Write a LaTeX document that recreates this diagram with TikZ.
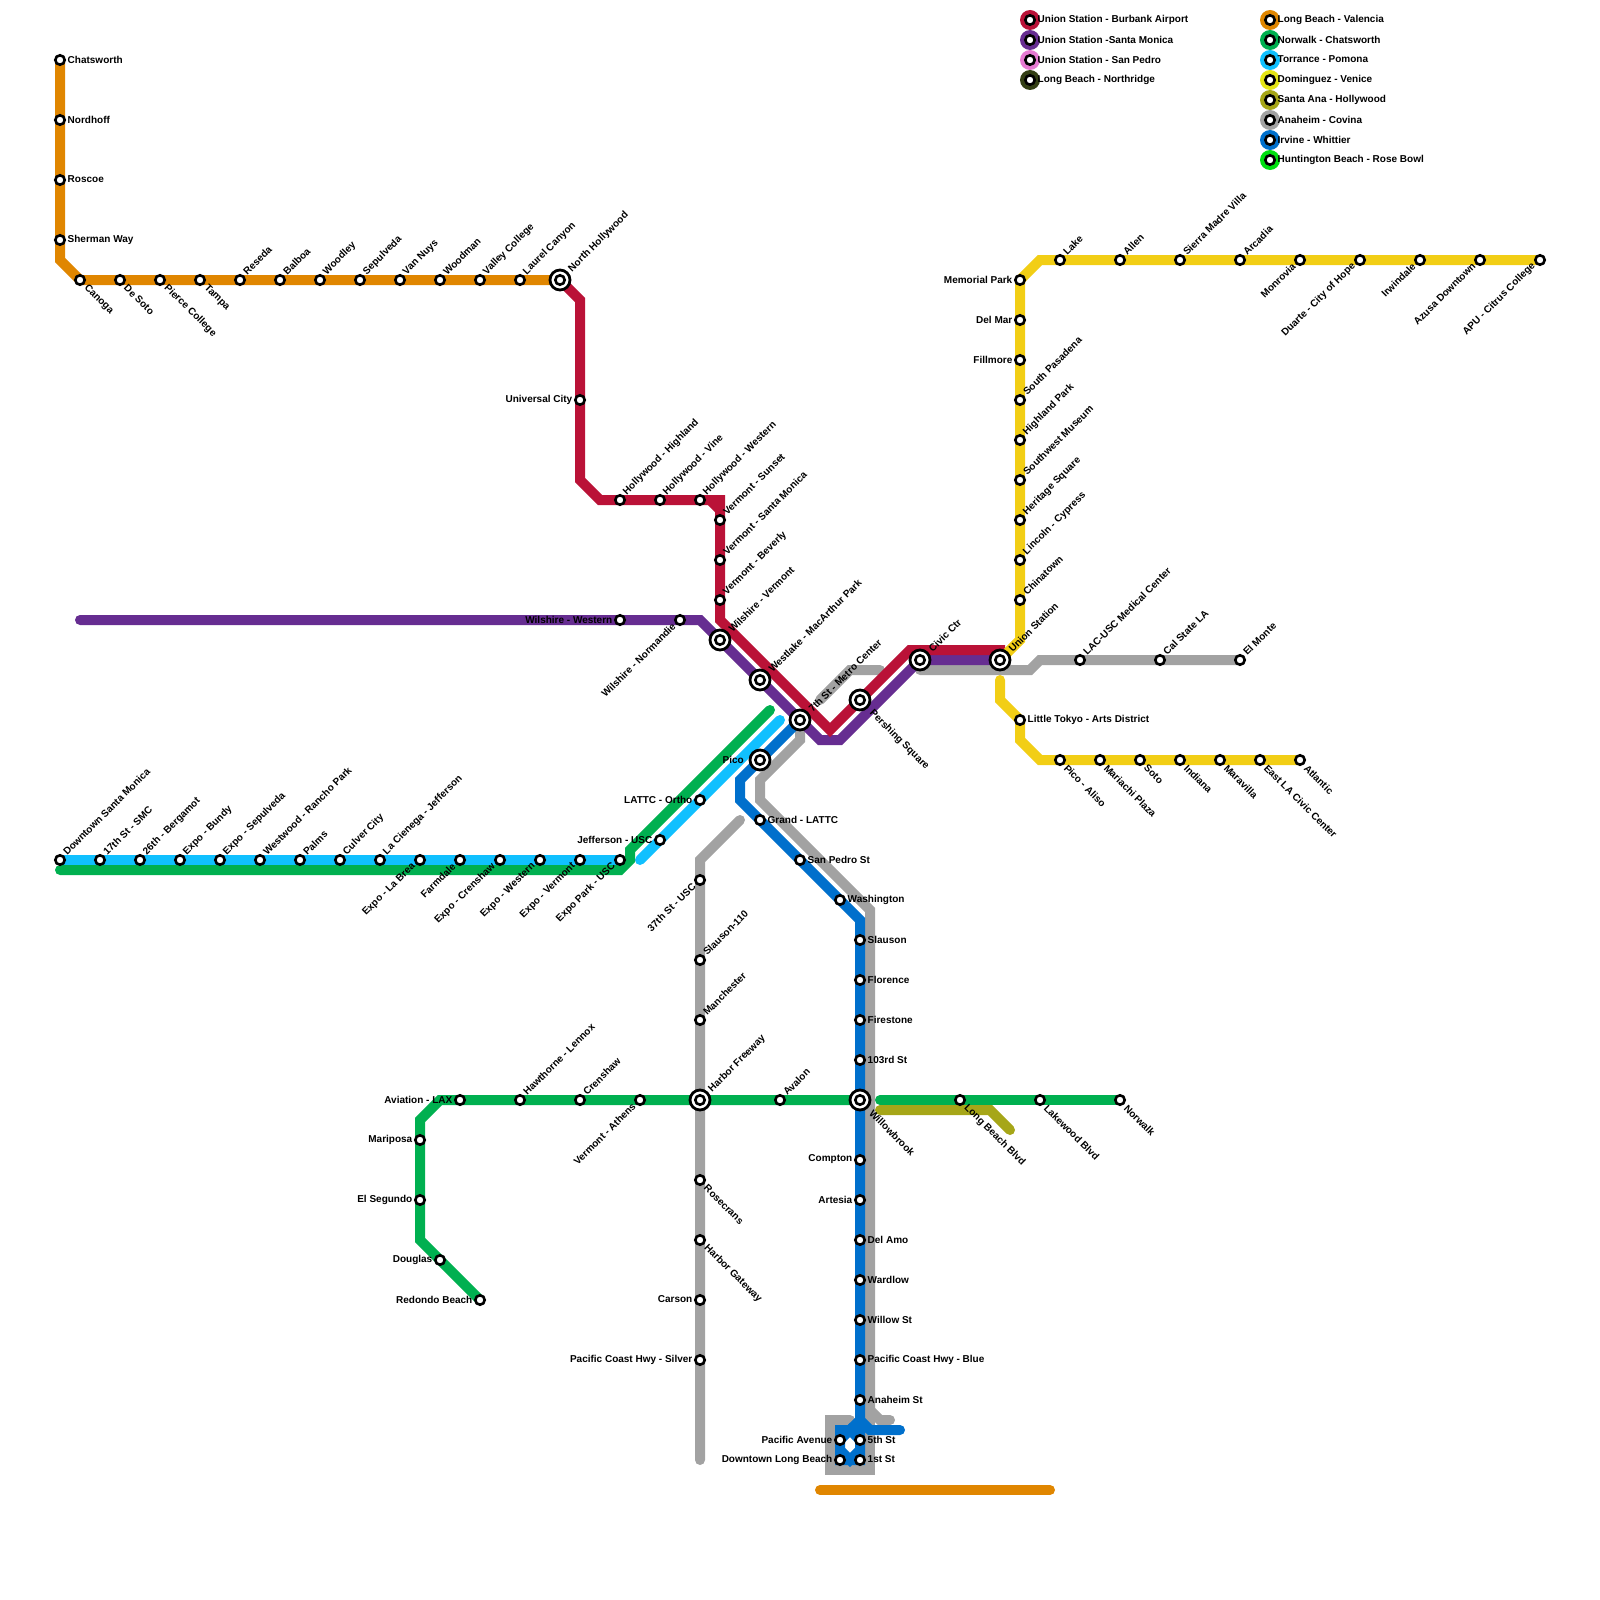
\documentclass[tikz,border=0pt]{standalone}
\usepackage{fontspec}
\setmainfont{Liberation Sans}
\usetikzlibrary{backgrounds}
\definecolor{cRed}{HTML}{BA1237}
\definecolor{cPurple}{HTML}{662D91}
\definecolor{cOrchid}{HTML}{E67AD2}
\definecolor{cDark}{HTML}{333F14}
\definecolor{cOrange}{HTML}{E08600}
\definecolor{cGreen}{HTML}{00B050}
\definecolor{cSky}{HTML}{10C0FF}
\definecolor{cYellow}{HTML}{F2CE15}
\definecolor{cLemon}{HTML}{E4E415}
\definecolor{cOlive}{HTML}{A6A618}
\definecolor{cGrey}{HTML}{A2A2A2}
\definecolor{cBlue}{HTML}{0070CC}
\definecolor{cLime}{HTML}{00E010}
\tikzset{
  every node/.append style={font=\bfseries\fontsize{10}{11}\selectfont, inner sep=0pt},
  ln/.style={line width=10pt, line cap=round, miter limit=10},
  stn/.style={circle, draw=black, fill=white, line width=2.6pt, minimum size=9.4pt},
  hub/.style={circle, draw=black, fill=white, line width=2.8pt, minimum size=20pt},
  dot/.style={circle, minimum size=20pt},
  lr/.style={anchor=west, xshift=7.5pt, yshift=0.5pt},
  ll/.style={anchor=east, xshift=-7.5pt, yshift=0.5pt},
  lne/.style={anchor=west, rotate=45, xshift=8pt, yshift=1.2pt},
  lse/.style={anchor=west, rotate=-45, xshift=8.5pt, yshift=-0.5pt},
  lsw/.style={anchor=east, rotate=45, xshift=-7.5pt, yshift=1pt},
  hne/.style={anchor=west, rotate=45, xshift=14pt, yshift=-0.5pt},
  hse/.style={anchor=west, rotate=-45, xshift=16pt, yshift=-0.5pt},
  hl/.style={anchor=east, xshift=-16pt, yshift=0.5pt},
}
\begin{document}
\begin{tikzpicture}[x=1pt,y=-1pt]
  \useasboundingbox (0,0) rectangle (1600,1600);
  % stations
  \foreach \nm/\x/\y/\txt/\sty in
     {chatsworth/60/60/{Chatsworth}/lr, nordhoff/60/120/{Nordhoff}/lr, roscoe/60/180/{Roscoe}/lr,
      sherman/60/240/{Sherman Way}/lr, canoga/80/280/{Canoga}/lse, desoto/120/280/{De Soto}/lse,
      pierce/160/280/{Pierce College}/lse, tampa/200/280/{Tampa}/lse, reseda/240/280/{Reseda}/lne,
      balboa/280/280/{Balboa}/lne, woodley/320/280/{Woodley}/lne, sepulveda/360/280/{Sepulveda}/lne,
      vannuys/400/280/{Van Nuys}/lne, woodman/440/280/{Woodman}/lne, valley/480/280/{Valley College}/lne,
      laurel/520/280/{Laurel Canyon}/lne,
      universal/580/400/{Universal City}/ll, hhighland/620/500/{Hollywood - Highland}/lne,
      hvine/660/500/{Hollywood - Vine}/lne, hwestern/700/500/{Hollywood - Western}/lne,
      vsunset/720/520/{Vermont - Sunset}/lne, vsanta/720/560/{Vermont - Santa Monica}/lne,
      vbeverly/720/600/{Vermont - Beverly}/lne,
      wwestern/620/620/{Wilshire - Western}/ll, wnormandie/680/620/{Wilshire - Normandie}/lsw,
      santamonica/60/860/{Downtown Santa Monica}/lne, smc/100/860/{17th St - SMC}/lne,
      bergamot/140/860/{26th - Bergamot}/lne, bundy/180/860/{Expo - Bundy}/lne,
      exposep/220/860/{Expo - Sepulveda}/lne, westwood/260/860/{Westwood - Rancho Park}/lne,
      palms/300/860/{Palms}/lne, culver/340/860/{Culver City}/lne, cienega/380/860/{La Cienega - Jefferson}/lne,
      labrea/420/860/{Expo - La Brea}/lsw, farmdale/460/860/{Farmdale}/lsw, expocren/500/860/{Expo - Crenshaw}/lsw,
      expowest/540/860/{Expo - Western}/lsw, expoverm/580/860/{Expo - Vermont}/lsw, expopark/620/860/{Expo Park - USC}/lsw,
      jefferson/660/840/{Jefferson - USC}/ll, lattc/700/800/{LATTC - Ortho}/ll,
      grand/760/820/{Grand - LATTC}/lr, sanpedro/800/860/{San Pedro St}/lr, washington/840/900/{Washington}/lr,
      slauson/860/940/{Slauson}/lr, florence/860/980/{Florence}/lr, firestone/860/1020/{Firestone}/lr,
      rd103/860/1060/{103rd St}/lr, compton/860/1160/{Compton}/ll, artesia/860/1200/{Artesia}/ll,
      delamo/860/1240/{Del Amo}/lr, wardlow/860/1280/{Wardlow}/lr, willowst/860/1320/{Willow St}/lr,
      pchblue/860/1360/{Pacific Coast Hwy - Blue}/lr, anaheim/860/1400/{Anaheim St}/lr,
      fifth/860/1440/{5th St}/lr, first/860/1460/{1st St}/lr,
      pacific/840/1440/{Pacific Avenue}/ll, dtlb/840/1460/{Downtown Long Beach}/ll,
      usc37/700/880/{37th St - USC}/lsw, slauson110/700/960/{Slauson-110}/lne, manchester/700/1020/{Manchester}/lne,
      rosecrans/700/1180/{Rosecrans}/lse, gateway/700/1240/{Harbor Gateway}/lse,
      carson/700/1300/{Carson}/ll, pchsilver/700/1360/{Pacific Coast Hwy - Silver}/ll,
      redondo/480/1300/{Redondo Beach}/ll, douglas/440/1260/{Douglas}/ll, segundo/420/1200/{El Segundo}/ll,
      mariposa/420/1140/{Mariposa}/ll, aviation/460/1100/{Aviation - LAX}/ll, lennox/520/1100/{Hawthorne - Lennox}/lne,
      crenshaw/580/1100/{Crenshaw}/lne, athens/640/1100/{Vermont - Athens}/lsw, avalon/780/1100/{Avalon}/lne,
      lbblvd/960/1100/{Long Beach Blvd}/lse, lakewood/1040/1100/{Lakewood Blvd}/lse, norwalk/1120/1100/{Norwalk}/lse,
      memorial/1020/280/{Memorial Park}/ll, delmar/1020/320/{Del Mar}/ll, fillmore/1020/360/{Fillmore}/ll,
      pasadena/1020/400/{South Pasadena}/lne, highland/1020/440/{Highland Park}/lne,
      museum/1020/480/{Southwest Museum}/lne, heritage/1020/520/{Heritage Square}/lne,
      lincoln/1020/560/{Lincoln - Cypress}/lne, chinatown/1020/600/{Chinatown}/lne,
      lake/1060/260/{Lake}/lne, allen/1120/260/{Allen}/lne, sierra/1180/260/{Sierra Madre Villa}/lne,
      arcadia/1240/260/{Arcadia}/lne, monrovia/1300/260/{Monrovia}/lsw, duarte/1360/260/{Duarte - City of Hope}/lsw,
      irwindale/1420/260/{Irwindale}/lsw, azusa/1480/260/{Azusa Downtown}/lsw, apu/1540/260/{APU - Citrus College}/lsw,
      lacusc/1080/660/{LAC-USC Medical Center}/lne, calstate/1160/660/{Cal State LA}/lne, elmonte/1240/660/{El Monte}/lne,
      tokyo/1020/720/{Little Tokyo - Arts District}/lr, aliso/1060/760/{Pico - Aliso}/lse,
      mariachi/1100/760/{Mariachi Plaza}/lse, soto/1140/760/{Soto}/lse, indiana/1180/760/{Indiana}/lse,
      maravilla/1220/760/{Maravilla}/lse, civiceast/1260/760/{East LA Civic Center}/lse, atlantic/1300/760/{Atlantic}/lse}{
     \node[stn] (\nm) at (\x,\y) {};
     \node[\sty] (\nm txt) at (\x,\y) {\txt};
  }
  % interchanges
  \foreach \nm/\x/\y/\txt/\sty in
     {nhollywood/560/280/{North Hollywood}/hne, wvermont/720/640/{Wilshire - Vermont}/hne,
      westlake/760/680/{Westlake - MacArthur Park}/hne, metro/800/720/{7th St - Metro Center}/hne,
      pershing/860/700/{Pershing Square}/hse, civic/920/660/{Civic Ctr}/hne, union/1000/660/{Union Station}/hne,
      pico/760/760/{Pico}/hl, harbor/700/1100/{Harbor Freeway}/hne, willowbrook/860/1100/{Willowbrook}/hse}{
     \node[hub] (\nm) at (\x,\y) {};
     \node[stn] (\nm c) at (\x,\y) {};
     \node[\sty] (\nm txt) at (\x,\y) {\txt};
  }
  % legend
  \foreach \col/\x/\y/\txt in
     {cRed/1030/20/{Union Station - Burbank Airport}, cPurple/1030/40/{Union Station -Santa Monica},
      cOrchid/1030/60/{Union Station - San Pedro}, cDark/1030/80/{Long Beach - Northridge},
      cOrange/1270/20/{Long Beach - Valencia}, cGreen/1270/40/{Norwalk - Chatsworth},
      cSky/1270/60/{Torrance - Pomona}, cLemon/1270/80/{Dominguez - Venice},
      cOlive/1270/100/{Santa Ana - Hollywood}, cGrey/1270/120/{Anaheim - Covina},
      cBlue/1270/140/{Irvine - Whittier}, cLime/1270/160/{Huntington Beach - Rose Bowl}}{
     \node[dot, fill=\col] (lg\col) at (\x,\y) {};
     \node[stn] (lg\col s) at (\x,\y) {};
     \node[lr] (lg\col t) at (\x,\y) {\txt};
  }
  % bends and free ends
  \foreach \nm/\x/\y in
     {oA/60/260, obA/820/1490, obB/1050/1490,
      rA/580/300, rB/580/480, rC/600/500, rD/720/500, rE/720/620, rF/830/730, rG/910/650, rH/1000/650,
      rI/710/500, rJ/720/510,
      pA/80/620, pB/700/620, pC/820/740, pD/840/740,
      yA/1020/640, yB/1040/260, yC/1000/680, yD/1000/700, yE/1020/740, yF/1040/760,
      gA/800/740, gB/760/780, gC/760/800, gD/870/910, gE/870/1410, gF/880/1420, gG/890/1420,
      gH/850/1420, gI/830/1420, gJ/830/1470, gK/870/1470,
      gL/820/700, gM/850/670, gN/880/670, gO/920/670, gP/1030/670, gQ/1040/660,
      gR/740/820, gS/700/860, gT/700/1460,
      eA/60/870, eB/620/870, eC/630/860, eD/630/850, eE/770/710,
      eF/420/1240, eG/420/1120, eH/440/1100, eI/880/1100,
      sA/640/860, sB/780/720, vA/880/1110, vB/990/1110, vC/1010/1130,
      bA/740/780, bB/740/800, bC/860/920, bD/840/1430, bE/850/1430, bF/860/1420, bG/870/1430, bH/900/1430,
      bI/840/1450, bJ/850/1460, bK/860/1450}{
     \coordinate (\nm) at (\x,\y);
  }
  \begin{scope}[on background layer]
    % grey
    \draw[ln, cGrey] (metro.center) -- (gA) -- (gB) -- (gC) -- (gD) -- (gE) -- (gF) -- (gG);
    \draw[ln, cGrey] (gH) -- (gI) -- (gJ) -- (gK) -- (gE);
    \draw[ln, cGrey] (gL) -- (gM) -- (gN);
    \draw[ln, cGrey] (gO) -- (gP) -- (gQ) -- (lacusc.center) -- (elmonte.center);
    \draw[ln, cGrey] (gR) -- (gS) -- (gT);
    % orange
    \draw[ln, cOrange] (chatsworth.center) -- (oA) -- (canoga.center) -- (nhollywood.center);
    \draw[ln, cOrange] (obA) -- (obB);
    % purple and red
    \draw[ln, cPurple] (pA) -- (pB) -- (pC) -- (pD) -- (civic.center) -- (union.center);
    \draw[ln, cRed] (nhollywood.center) -- (rA) -- (rB) -- (rC) -- (rD) -- (rE) -- (rF) -- (rG) -- (rH) -- (union.center);
    \draw[ln, cRed, line cap=butt] (rI) -- (rJ);
    % yellow
    \draw[ln, cYellow] (union.center) -- (yA) -- (memorial.center) -- (yB) -- (apu.center);
    \draw[ln, cYellow] (yC) -- (yD) -- (tokyo.center) -- (yE) -- (yF) -- (atlantic.center);
    % expo and green
    \draw[ln, cSky] (santamonica.center) -- (expopark.center);
    \draw[ln, cSky] (sA) -- (sB);
    \draw[ln, cGreen] (eA) -- (eB) -- (eC) -- (eD) -- (eE);
    \draw[ln, cGreen] (redondo.center) -- (eF) -- (eG) -- (eH) -- (willowbrook.center);
    \draw[ln, cGreen] (eI) -- (norwalk.center);
    \draw[ln, cOlive] (vA) -- (vB) -- (vC);
    % blue
    \draw[ln, cBlue] (metro.center) -- (bA) -- (bB) -- (bC) -- (first.center) -- (dtlb.center) -- (bD) -- (bE) -- (bF) -- (bG) -- (bH);
    \draw[ln, cBlue, line cap=butt] (pacific.center) -- (bE) -- (fifth.center);
    \draw[ln, cBlue, line cap=butt] (bI) -- (bJ) -- (bK);
  \end{scope}
\end{tikzpicture}
\end{document}
